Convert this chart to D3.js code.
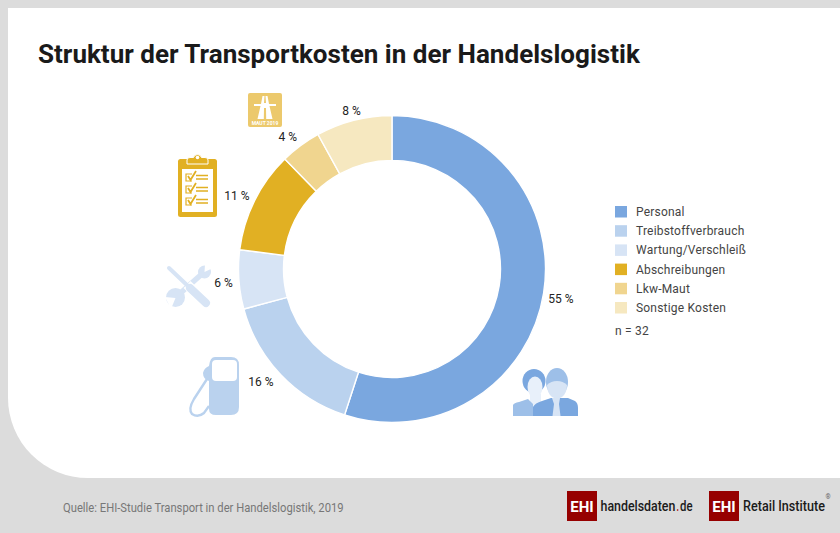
<!DOCTYPE html>
<html><head><meta charset="utf-8">
<script src="https://cdn.jsdelivr.net/npm/d3@7"></script>
<style>html,body{margin:0;padding:0;background:#dcdcdc}svg{display:block}text{font-family:Roboto,Lato,sans-serif}</style>
</head><body><svg id="c" width="840" height="533"></svg>
<script>
const categories=["Personal","Treibstoffverbrauch","Wartung/Verschleiß","Abschreibungen","Lkw-Maut","Sonstige Kosten"];
const values=[55,15.8,6.2,10.7,4.3,8];
const colors=["#7aa7df","#bad2ee","#d7e4f5","#e1b023","#f0d58f","#f6e8c0"];
const valueLabels=["55 %","16 %","6 %","11 %","4 %","8 %"];
const title="Struktur der Transportkosten in der Handelslogistik";
const source="Quelle: EHI-Studie Transport in der Handelslogistik, 2019";
const sampleNote="n = 32";

const svg=d3.select("#c");
svg.append("rect").attr("width",840).attr("height",533).attr("fill","#dcdcdc");
svg.append("path").attr("d","M8 8H840V478H88A80 80 0 0 1 8 398Z").attr("fill","#fff");
function fit(x,y,len,txt,fill,size,weight){
  const n=svg.append("text").attr("font-size",size).attr("font-weight",weight).attr("fill",fill).text(txt);
  const sx=len/n.node().getComputedTextLength();
  n.attr("transform",`translate(${x},${y}) scale(${sx},1)`);
}
fit(38,63,602,title,"#1a1a1a",26,700);

// donut
const cx=392,cy=269;
const g=svg.append("g").attr("transform",`translate(${cx},${cy})`);
const arcs=d3.pie().sort(null).value(d=>d)(values);
const arc=d3.arc().innerRadius(108.5).outerRadius(153.5);
g.selectAll("path").data(arcs).join("path").attr("d",arc).attr("fill",(d,i)=>colors[i]).attr("stroke","#fff").attr("stroke-width",1.4);
const labelDx=[-1,-8,1,-3,-3,2], labelDy=[3,-4,2,3,5,8], labelR=[172,170,170,170,170,171];
g.selectAll("text").data(arcs).join("text")
  .attr("transform",(d,i)=>{const a=(d.startAngle+d.endAngle)/2,r=labelR[i];return `translate(${Math.sin(a)*r+labelDx[i]},${-Math.cos(a)*r+4+labelDy[i]})`;})
  .attr("text-anchor","middle").attr("font-size",12).attr("fill","#222").text((d,i)=>valueLabels[i]);

// legend
const ly=d3.scalePoint().domain(categories).range([211.5,307.5]);
const lg=svg.append("g");
lg.selectAll("rect").data(categories).join("rect").attr("x",615).attr("y",d=>ly(d)-5.5).attr("width",12).attr("height",11.5).attr("fill",(d,i)=>colors[i]);
lg.selectAll("text").data(categories).join("text").attr("x",636).attr("y",d=>ly(d)+4.5).attr("font-size",12).attr("letter-spacing",.2).attr("fill","#444").text(d=>d);
svg.append("text").attr("x",615).attr("y",335).attr("font-size",12).attr("letter-spacing",.2).attr("fill","#444").text(sampleNote);

// footer
fit(63,512,281,source,"#777",12,400);
function logo(x){
  svg.append("rect").attr("x",x).attr("y",491).attr("width",30).attr("height",30).attr("fill","#960000");
  svg.append("text").attr("x",x+15).attr("y",511.5).attr("text-anchor","middle").attr("font-size",15).attr("font-weight",700).attr("fill","#fff").text("EHI");
}
logo(567);logo(709);
fit(600.5,511,75,"handelsdaten","#1a1a1a",15.5,500);
fit(676.5,511,2.5,".","#b01010",15.5,500);
fit(680,511,12.5,"de","#1a1a1a",15.5,500);
fit(743,511,82,"Retail Institute","#1a1a1a",15.5,500);
svg.append("text").attr("x",825.5).attr("y",499).attr("font-size",6.5).attr("fill","#666").text("®");

// Maut sign
const m=svg.append("g").attr("transform","translate(248,93)");
m.append("rect").attr("width",34).attr("height",34).attr("rx",2).attr("fill","#ecc96c");
m.append("path").attr("fill","#fff").attr("d","M14.5 3H16.5L16 10H18L17.5 3H19.5L21 11H28V13H21.5L24.5 26H18.2L18 15H16L15.8 26H9.5L12.5 13H6V11H13Z");
m.append("text").attr("x",17).attr("y",32).attr("text-anchor","middle").attr("font-size",5).attr("font-weight",700).attr("fill","#fff").text("MAUT 2019");
// clipboard
const b=svg.append("g").attr("transform","translate(178,153)");
b.append("rect").attr("y",6).attr("width",39).attr("height",58).attr("rx",2.5).attr("fill","#e1b023");
b.append("path").attr("fill","#e1b023").attr("stroke","#fff").attr("stroke-width",1).attr("d","M9 11V7Q9 4.5 12 4.5H15.5A4.2 4.2 0 0 1 23.5 4.5H27Q30 4.5 30 7V11Z");
b.append("circle").attr("cx",19.5).attr("cy",4.5).attr("r",1.8).attr("fill","#fff");
b.append("rect").attr("x",4).attr("y",16).attr("width",31).attr("height",43).attr("fill","#fff");
[22,34,46].forEach(y=>{
  b.append("path").attr("fill","none").attr("stroke","#e1b023").attr("stroke-width",1.2).attr("d",`M14 ${y-1}H8V${y+6}H14`);
  b.append("path").attr("fill","none").attr("stroke","#e1b023").attr("stroke-width",1.8).attr("d",`M10 ${y+1}L12.5 ${y+5}L18 ${y-4}`);
  b.append("path").attr("fill","none").attr("stroke","#e1b023").attr("stroke-width",1.3).attr("d",`M18 ${y+.5}H30M18 ${y+4}H30`);
});
// tools
const t=svg.append("g").attr("transform","translate(167,265)").attr("stroke-linecap","round").attr("fill","none");
const tc="#d7e4f5";
t.append("path").attr("stroke",tc).attr("stroke-width",5.5).attr("d","M36 8L9 32");
t.append("circle").attr("cx",37.5).attr("cy",7).attr("r",6.5).attr("fill",tc);
t.append("path").attr("fill","#fff").attr("d","M37.5 7L38 -1L46 3Z");
t.append("circle").attr("cx",8.5).attr("cy",32.5).attr("r",9.5).attr("fill",tc);
t.append("path").attr("fill","#fff").attr("d","M8.5 33L-2 32L4 44Z");
t.append("path").attr("stroke","#fff").attr("stroke-width",10).attr("stroke-linecap","butt").attr("d","M20 19.5L41 40");
t.append("path").attr("stroke",tc).attr("stroke-width",4).attr("d","M2 3L22 22");
t.append("path").attr("stroke",tc).attr("stroke-width",8).attr("d","M23 23L39 38");
// pump
const p=svg.append("g").attr("transform","translate(189,357)");
p.append("path").attr("fill","#bad2ee").attr("d","M26 0H42Q50 0 50 8V50Q50 58 42 58H27Q20 58 20 52V24Q14 22 14 16Q15 11 20 9Q21 0 26 0Z");
p.append("rect").attr("x",23).attr("y",3).attr("width",25).attr("height",21).attr("rx",4).attr("fill","#fff");
p.append("path").attr("fill","none").attr("stroke","#bad2ee").attr("stroke-width",2.4).attr("d","M18 22L5 42Q-1 52 3 57Q9 61 15 56L20 49");
// people
const q=svg.append("g").attr("transform","translate(513,368)");
q.append("ellipse").attr("cx",21).attr("cy",13).attr("rx",11.5).attr("ry",12).attr("fill","#7aa7df");
q.append("ellipse").attr("cx",22).attr("cy",19).attr("rx",7.5).attr("ry",10.5).attr("fill","#e8f0fa");
q.append("path").attr("fill","#e8f0fa").attr("d","M17 26H28V40H17Z");
q.append("path").attr("fill","#9dbfe8").attr("d","M0 48V37Q1 35 6 34L15 31L20 36V48Z");
q.append("path").attr("fill","#7aa7df").attr("d","M20 48V39Q22 35 29 33L38 30L55 30L62 33Q65 35 65 40V48Z");
q.append("path").attr("fill","#d7e4f5").attr("d","M39 30H47L46 36L47.5 48H39.5L41 36Z");
q.append("ellipse").attr("cx",44).attr("cy",14).attr("rx",11).attr("ry",14).attr("fill","#9dbfe8");
q.append("path").attr("fill","#d7e4f5").attr("d","M34 17Q38 13 44 13Q50 13 54 17Q54 25 49 29Q44 32 39 29Q34 25 34 17Z");
</script></body></html>
